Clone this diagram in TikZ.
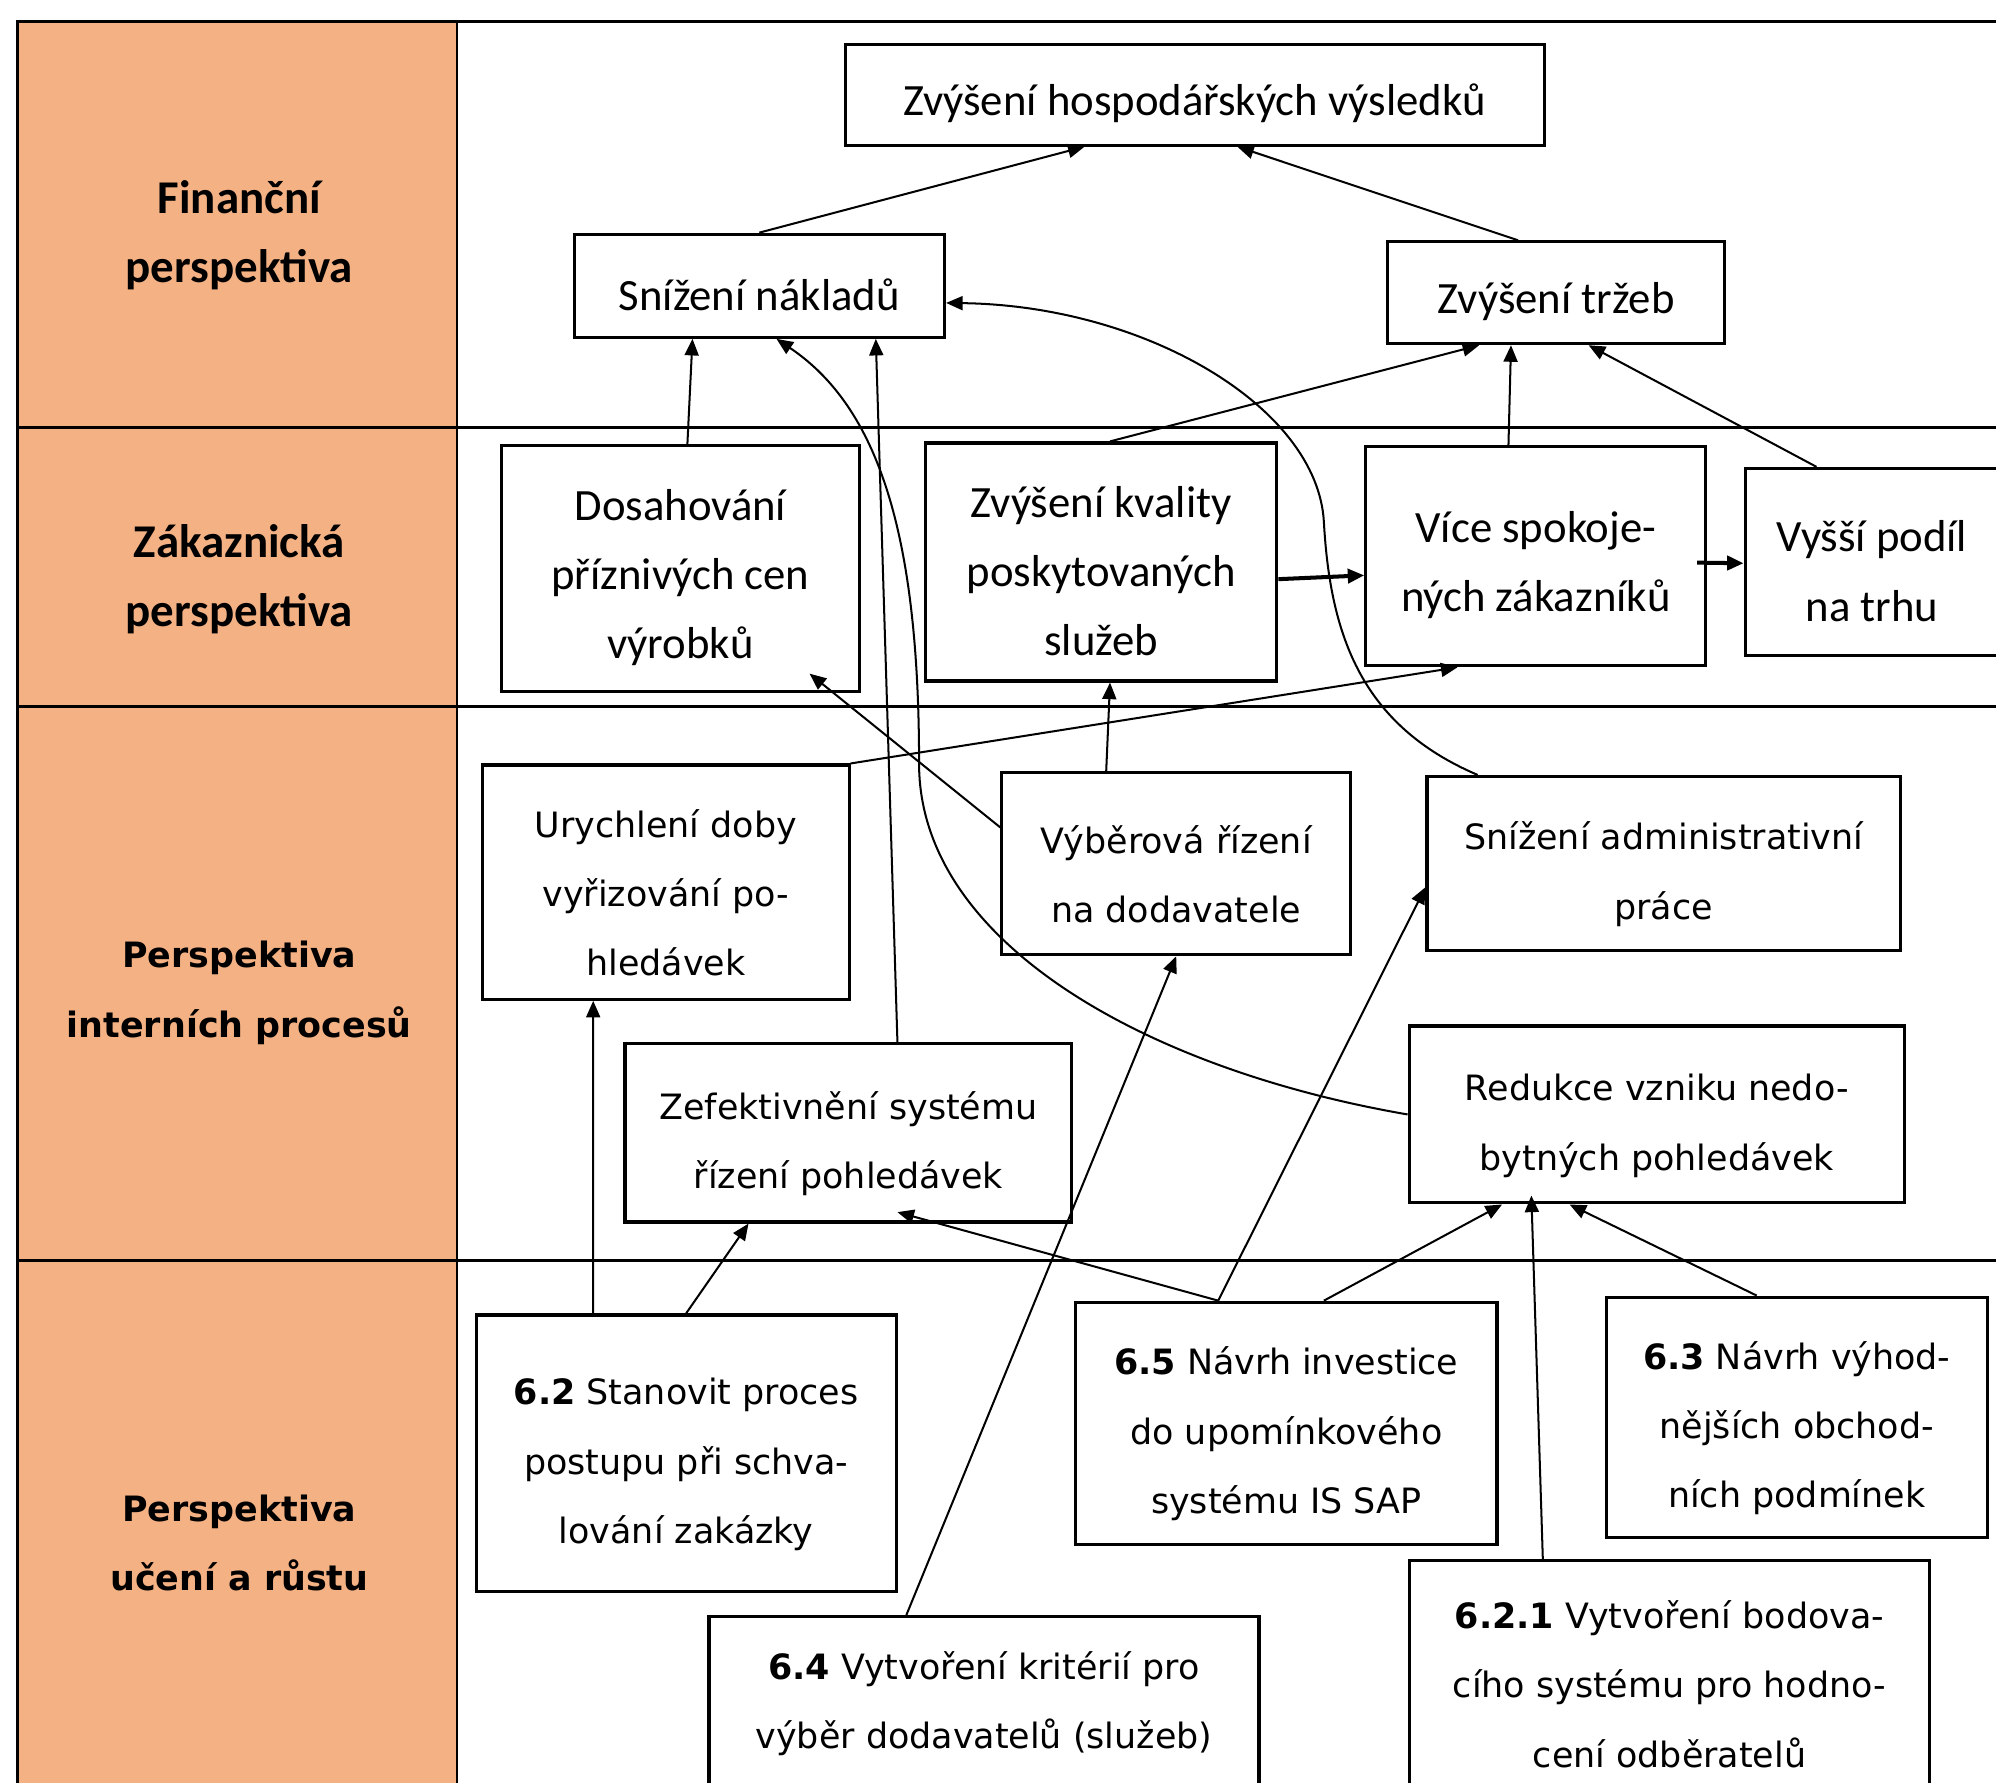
\documentclass[tikz,border=0pt]{standalone}
\usepackage{fontspec}
\setmainfont{Carlito}
\newfontfamily\tahoma{DejaVu Sans}
\usetikzlibrary{arrows.meta}
\definecolor{rowfill}{RGB}{244,177,131}
% strut for the first line of a box
\newcommand\up{\rule{0pt}{11pt}}

\begin{document}
\begin{tikzpicture}[x=0.1mm,y=-0.1mm]

% node style definition
\tikzstyle{box} = [
	draw, line width=0.7pt, rectangle, align=center, inner sep=1pt,
	font=\fontsize{10}{15.5}\selectfont ];
\tikzstyle{lbox} = [box, font=\tahoma\fontsize{7.8}{15.5}\selectfont];
\tikzstyle{rowlab} = [align=center, font=\bfseries\fontsize{10.5}{15.5}\selectfont];
\tikzstyle{lrowlab} = [align=center, font=\tahoma\bfseries\fontsize{7.8}{15.5}\selectfont];
\tikzstyle{arr} = [-{Triangle[length=1.3mm,width=1.1mm]}, line width=0.45pt];

\useasboundingbox (0,0) rectangle (1568,1400);
\clip (0,0) rectangle (1568,1400);

% table
\fill[rowfill] (14,17) rectangle (359,1420);
\draw[line width=0.65pt] (14,1420) -- (14,17) -- (1580,17);
\draw[line width=0.65pt] (359,17) -- (359,1420);
\foreach \y in {336,555,990}
	\draw[line width=0.65pt] (14,\y) -- (1580,\y);

\node[rowlab] (r1) at (188,185) {Finanční\\perspektiva};
\node[rowlab] (r2) at (188,455) {Zákaznická\\perspektiva};
\node[lrowlab] (r3) at (188,780) {Perspektiva\\interních procesů};
\node[lrowlab] (r4) at (188,1212) {Perspektiva\\učení a růstu};

% financni
\node[box,minimum width=54.9mm,minimum height=7.9mm] (f1) at (938.5,74.5) {\up Zvýšení hospodářských výsledků};
\node[box,minimum width=29.1mm,minimum height=8.1mm] (f2) at (596.5,224.5) {\up Snížení nákladů};
\node[box,minimum width=26.5mm,minimum height=8mm] (f3) at (1222.5,230) {\up Zvýšení tržeb};

% zakaznicka
\node[box,minimum width=28.1mm,minimum height=19.3mm] (z1) at (534.5,446.5) {\up Dosahování\\příznivých cen\\výrobků};
\node[box,minimum width=27.6mm,minimum height=18.7mm] (z2) at (865,441.5) {\up Zvýšení kvality\\poskytovaných\\služeb};
\node[box,minimum width=26.7mm,minimum height=17.2mm] (z3) at (1206.5,437) {\up Více spokoje-\\ných zákazníků};
\node[box,minimum width=19.9mm,minimum height=14.7mm] (z4) at (1470.5,441.5) {\up Vyšší podíl\\na trhu};

% interni procesy
\node[lbox,minimum width=28.8mm,minimum height=18.4mm] (i1) at (523,693) {\up Urychlení doby\\vyřizování po-\\hledávek};
\node[lbox,minimum width=27.4mm,minimum height=14.3mm] (i2) at (924,678.5) {\up Výběrová řízení\\na dodavatele};
\node[lbox,minimum width=37.2mm,minimum height=13.7mm] (i3) at (1307,678.5) {\up Snížení administrativní\\práce};
\node[lbox,minimum width=35.1mm,minimum height=14mm] (i4) at (666.5,890) {\up Zefektivnění systému\\řízení pohledávek};
\node[lbox,minimum width=38.9mm,minimum height=13.9mm] (i5) at (1301.5,875.5) {\up Redukce vzniku nedo-\\bytných pohledávek};

% uceni a rust
\node[lbox,minimum width=33mm,minimum height=21.7mm] (u1) at (539,1141.5) {\up\textbf{6.2} Stanovit proces\\postupu při schva-\\lování zakázky};
\node[lbox,minimum width=33.1mm,minimum height=19mm] (u2) at (1010.5,1118) {\up\textbf{6.5} Návrh investice\\do upomínkového\\systému IS SAP};
\node[lbox,minimum width=29.9mm,minimum height=18.9mm] (u3) at (1411.5,1113.5) {\up\textbf{6.3} Návrh výhod-\\nějších obchod-\\ních podmínek};
\node[lbox,minimum width=43.2mm,minimum height=13.7mm] (u4) at (773,1338.5) {\textbf{6.4} Vytvoření kritérií pro\\výběr dodavatelů (služeb)};
\node[lbox,minimum width=40.9mm,minimum height=19.4mm] (u5) at (1311.5,1323) {\textbf{6.2.1} Vytvoření bodova-\\cího systému pro hodno-\\cení odběratelů};

% vazby
\draw[arr] (f2.north) -- ([xshift=-8.65mm]f1.south);
\draw[arr] ([xshift=-3mm]f3.north) -- ([xshift=3.35mm]f1.south);
\draw[arr] ([xshift=.55mm]z1.north) -- ([xshift=-5.25mm]f2.south);
\draw[arr] ([xshift=.7mm]z2.north) -- ([xshift=-6.05mm]f3.south);
\draw[arr] ([xshift=-2.15mm]z3.north) -- ([xshift=-3.55mm]f3.south);
\draw[arr] ([xshift=-4.35mm]z4.north) -- ([xshift=2.55mm]f3.south);
\draw[arr,line width=0.9pt] ([yshift=-1.35mm]z2.east) -- ([yshift=-1.5mm]z3.west);
\draw[arr,line width=0.9pt] ([xshift=-.8mm,yshift=-.5mm]z3.east) -- ([yshift=-.1mm]z4.west);
\draw[arr] (i1.north east) -- ([xshift=-6.15mm]z3.south);
\draw[arr] ([yshift=2.85mm]i2.west) -- ([xshift=10.15mm,yshift=1.5mm]z1.south);
\draw[arr] ([xshift=-5.5mm]i2.north) -- ([xshift=.7mm]z2.south);
\draw[arr] ([xshift=3.85mm]i4.north) -- ([xshift=9.15mm]f2.south);
\draw[arr] (i5.west) .. controls (900,840) and (722,740) .. (722,600)
	.. controls (722,420) and (690,320) .. ([xshift=1.35mm]f2.south);
\draw[arr] ([xshift=4.1mm]i3.north west) .. controls (1070,570) and (1045,500) .. (1040,410)
	.. controls (1035,320) and (900,240) .. ([yshift=-1.35mm]f2.east);
\draw[arr] ([xshift=-7.3mm]u1.north) -- ([xshift=-5.7mm]i1.south);
\draw[arr] (u1.north) -- ([xshift=-7.85mm]i4.south);
\draw[arr] ([xshift=-5.35mm]u2.north) -- ([xshift=3.85mm,yshift=.9mm]i4.south);
\draw[arr] ([xshift=-5.35mm]u2.north) -- ([yshift=-1.85mm]i3.west);
\draw[arr] ([xshift=2.95mm]u2.north) -- ([xshift=-12.15mm]i5.south);
\draw[arr] ([xshift=-3.15mm]u3.north) -- ([xshift=-6.85mm]i5.south);
\draw[arr] ([xshift=-9.95mm]u5.north) -- ([xshift=-9.85mm,yshift=.7mm]i5.south);
\draw[arr] ([xshift=-6.1mm]u4.north) -- (i2.south);

\end{tikzpicture}
\end{document}
